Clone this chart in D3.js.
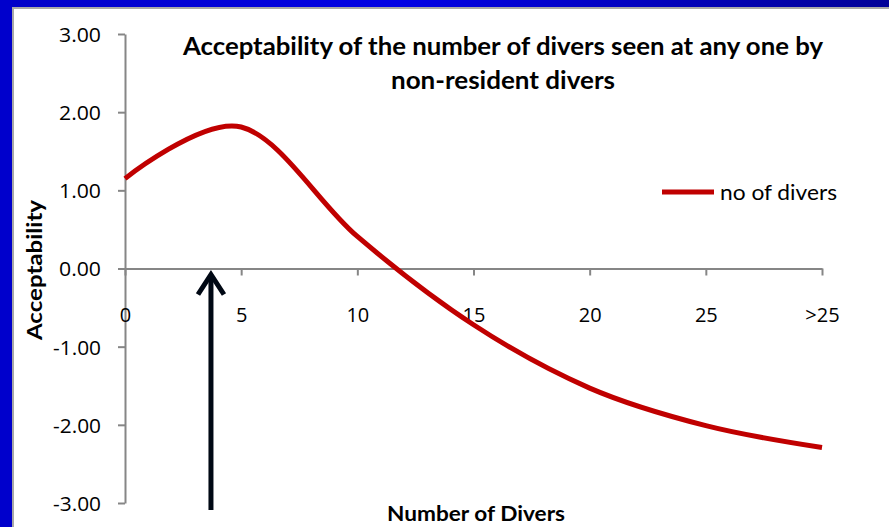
<!DOCTYPE html>
<html>
<head>
<meta charset="utf-8">
<script src="https://cdn.jsdelivr.net/npm/d3@7"></script>
<style>
  html, body { margin: 0; padding: 0; background: #ffffff; }
  svg { display: block; }
  text { font-family: Lato, "Open Sans", "DejaVu Sans", sans-serif; fill: #000; }
  .tick text { font-family: "Open Sans", Lato, sans-serif; font-size: 20px; }
</style>
</head>
<body>
<svg id="chart" width="889" height="527"></svg>
<script>
// Number-of-divers categories on the x axis
const categories = ["0", "5", "10", "15", "20", "25", ">25"];
// Mean acceptability score for each category
const acceptability = [1.15, 1.81, 0.41, -0.72, -1.53, -2.01, -2.29];
// Y axis tick values
const yTickValues = [3, 2, 1, 0, -1, -2, -3];
const seriesName = "no of divers";
const titleLines = ["Acceptability of the number of divers seen at any one by", "non-resident divers"];
const xTitle = "Number of Divers";
const yTitle = "Acceptability";
// Number of divers marked by the arrow
const markedDivers = 3.7;

const svg = d3.select("#chart");
const W = 889, H = 527;

// Frame: blue slide border with thin grey inner edge
const defs = svg.append("defs");
const grad = defs.append("linearGradient").attr("id", "topBar").attr("x1", "0").attr("x2", "1").attr("y1", "0").attr("y2", "0");
grad.append("stop").attr("offset", "0").attr("stop-color", "#0000c8");
grad.append("stop").attr("offset", "0.45").attr("stop-color", "#0000e4");
grad.append("stop").attr("offset", "1").attr("stop-color", "#000098");

svg.append("rect").attr("x", 0).attr("y", 0).attr("width", W).attr("height", H).attr("fill", "#ffffff");
svg.append("rect").attr("x", 0).attr("y", 0).attr("width", W).attr("height", 7).attr("fill", "url(#topBar)");
svg.append("rect").attr("x", 0).attr("y", 0).attr("width", 12).attr("height", H).attr("fill", "#0000cc");
svg.append("rect").attr("x", 12).attr("y", 7).attr("width", W - 12).attr("height", 2).attr("fill", "#a8a8a8");
svg.append("rect").attr("x", 12).attr("y", 7).attr("width", 2).attr("height", H - 7).attr("fill", "#a8a8a8");

// Scales
const x = d3.scalePoint().domain(categories).range([125, 822]);
const xNum = d3.scaleLinear().domain([0, 30]).range([125, 822]);
const y = d3.scaleLinear().domain([-3, 3]).range([503, 34]);

const axisColor = "#868686";
const fmt = d => d3.format(".2f")(d).replace("\u2212", "-");

// Y axis
const yAxis = svg.append("g").attr("transform", `translate(${x(categories[0])},0)`)
  .call(d3.axisLeft(y).tickValues(yTickValues).tickFormat(fmt).tickSize(7).tickSizeOuter(0));
yAxis.attr("font-size", null).attr("font-family", null);
yAxis.select(".domain").attr("stroke", axisColor).attr("stroke-width", 2);
yAxis.selectAll(".tick line").attr("stroke", axisColor).attr("stroke-width", 2);
yAxis.selectAll(".tick text").attr("x", -24).attr("dy", "0.37em").attr("fill", "#000")
  .attr("textLength", 42).attr("lengthAdjust", "spacingAndGlyphs");
yAxis.selectAll(".tick text").filter(d => d < 0).attr("textLength", 48);

// X axis drawn at y = 0
const xAxis = svg.append("g").attr("transform", `translate(0,${y(0)})`)
  .call(d3.axisBottom(x).tickSize(7).tickSizeOuter(0));
xAxis.attr("font-size", null).attr("font-family", null);
xAxis.select(".domain").attr("stroke", axisColor).attr("stroke-width", 2);
xAxis.selectAll(".tick line").attr("stroke", axisColor).attr("stroke-width", 2);
xAxis.selectAll(".tick text").attr("y", 53).attr("dy", 0).attr("fill", "#000");

// Smoothed series line
const line = d3.line()
  .x((d, i) => x(categories[i]))
  .y(d => y(d))
  .curve(d3.curveCatmullRom.alpha(0));
svg.append("path").datum(acceptability)
  .attr("d", line)
  .attr("fill", "none")
  .attr("stroke", "#c00000")
  .attr("stroke-width", 5)
  .attr("stroke-linejoin", "round");

// Arrow pointing up at the x axis
const ax = xNum(markedDivers);
const tipY = y(0) + 4;
const baseY = 510;
svg.append("line").attr("x1", ax).attr("x2", ax).attr("y1", tipY + 6).attr("y2", baseY)
  .attr("stroke", "#000814").attr("stroke-width", 5);
svg.append("path")
  .attr("d", `M${ax - 13},${tipY + 22} L${ax},${tipY + 2} L${ax + 13},${tipY + 22}`)
  .attr("fill", "none").attr("stroke", "#000814").attr("stroke-width", 5)
  .attr("stroke-linejoin", "miter").attr("stroke-linecap", "butt");

// Title
const titleWidths = [640, 224];
const title = svg.append("text").attr("text-anchor", "middle").attr("font-weight", "bold").attr("font-size", 24);
title.selectAll("tspan").data(titleLines).join("tspan")
  .attr("x", 503).attr("y", (d, i) => 55 + i * 34)
  .attr("textLength", (d, i) => titleWidths[i]).attr("lengthAdjust", "spacingAndGlyphs")
  .text(d => d);

// Axis titles
svg.append("text").attr("x", 476).attr("y", 521).attr("text-anchor", "middle")
  .attr("font-weight", "bold").attr("font-size", 20)
  .attr("textLength", 178).attr("lengthAdjust", "spacingAndGlyphs").text(xTitle);
svg.append("text").attr("transform", "translate(42,270) rotate(-90)").attr("text-anchor", "middle")
  .attr("font-weight", "bold").attr("font-size", 20)
  .attr("textLength", 140).attr("lengthAdjust", "spacingAndGlyphs").text(yTitle);

// Legend
const legend = svg.append("g").attr("transform", "translate(662,192)");
legend.append("line").attr("x1", 0).attr("x2", 52).attr("y1", 0).attr("y2", 0)
  .attr("stroke", "#c00000").attr("stroke-width", 5);
legend.append("text").attr("x", 58).attr("y", 0).attr("dy", "0.36em").attr("font-size", 21)
  .attr("textLength", 117).attr("lengthAdjust", "spacingAndGlyphs").text(seriesName);
</script>
</body>
</html>
